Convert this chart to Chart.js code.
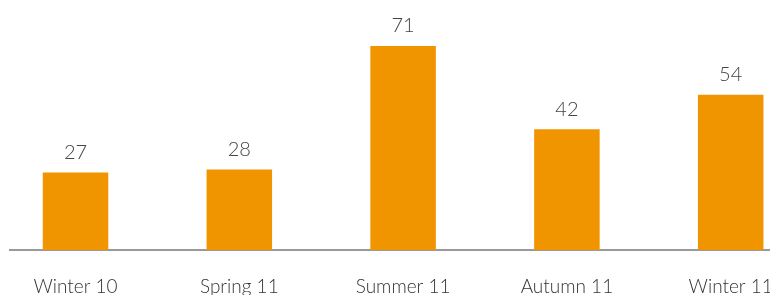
<!DOCTYPE html>
<html><head><meta charset="utf-8">
<script src="https://cdn.jsdelivr.net/npm/chart.js@4"></script>
<style>html,body{margin:0;padding:0;background:#fff;}#wrap{position:absolute;left:0;top:0;width:770px;height:295px;}</style>
</head><body><div id="wrap"><canvas id="c"></canvas></div>
<script>
const categories = ["Winter 10", "Spring 11", "Summer 11", "Autumn 11", "Winter 11"];
const values = [27, 28, 71, 42, 54];

const FONT = "Lato, 'Open Sans', sans-serif";
const valueLabels = {
  id: 'valueLabels',
  afterDatasetsDraw(chart) {
    const ctx = chart.ctx;
    const meta = chart.getDatasetMeta(0);
    ctx.save();
    ctx.font = "300 20px " + FONT;
    ctx.fillStyle = "#444";
    ctx.textAlign = "center";
    ctx.textBaseline = "bottom";
    meta.data.forEach((bar, i) => {
      ctx.fillText(String(values[i]), bar.x, bar.y - 10);
    });
    ctx.restore();
  }
};

new Chart(document.getElementById('c'), {
  type: 'bar',
  data: {
    datasets: [{
      data: values.map((v, i) => ({x: i, y: v})),
      backgroundColor: '#F09500',
      borderWidth: 0,
      categoryPercentage: 0.8,
      barPercentage: 0.5
    }]
  },
  options: {
    responsive: true,
    maintainAspectRatio: false,
    animation: false,
    events: [],
    layout: {padding: {left: 10, right: 0, top: 0, bottom: 0}},
    plugins: {legend: {display: false}, tooltip: {enabled: false}},
    scales: {
      x: {
        type: 'linear',
        offset: false,
        min: -0.4,
        max: 4.24,
        afterBuildTicks(axis) { axis.ticks = categories.map((c, i) => ({value: i})); },
        afterFit(scale) { scale.paddingLeft = 0; scale.paddingRight = 0; scale.height = 45; },
        grid: {display: false, drawTicks: false},
        border: {display: true, color: '#9a9a9a', width: 2},
        ticks: {
          autoSkip: false,
          maxRotation: 0,
          padding: 25,
          color: '#333',
          font: {family: FONT, size: 19, weight: 300},
          callback: (v) => categories[v] !== undefined ? categories[v] : ''
        }
      },
      y: {
        display: false,
        min: 0,
        max: 87
      }
    }
  },
  plugins: [valueLabels]
});
</script></body></html>
